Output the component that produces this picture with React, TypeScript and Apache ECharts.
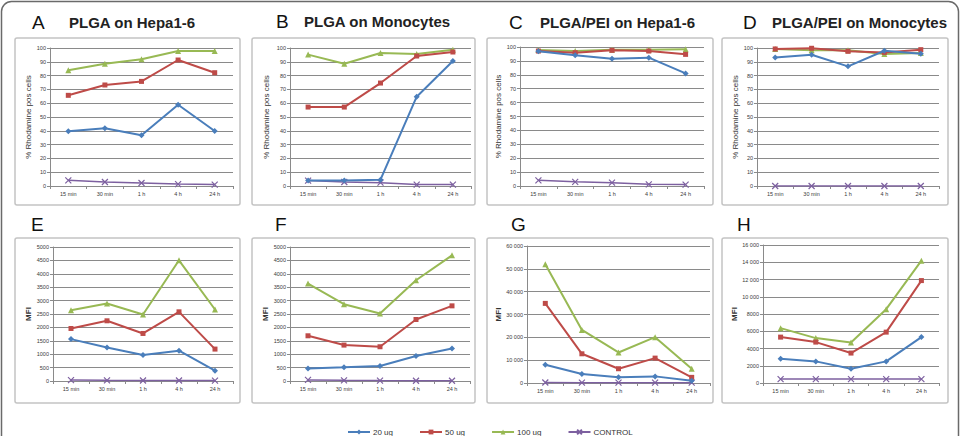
import { useEffect, useRef } from "react";
import * as echarts from "echarts";

// Time points shared by all panels
const timePoints = ["15 min", "30 min", "1 h", "4 h", "24 h"];
const doseNames = ["20 ug", "50 ug", "100 ug", "CONTROL"];

// % Rhodamine positive cells
const plgaHepa20 = [39.6, 41.8, 36.7, 58.9, 39.9];
const plgaHepa50 = [65.7, 73.2, 75.8, 91.3, 82.1];
const plgaHepa100 = [83.8, 88.6, 91.8, 97.8, 97.8];
const plgaHepaCtl = [4.1, 2.9, 2.2, 1.4, 1.0];

const plgaMono20 = [3.9, 3.9, 4.6, 64.7, 90.6];
const plgaMono50 = [57.2, 57.2, 74.6, 94.2, 97.1];
const plgaMono100 = [95.2, 88.6, 96.4, 95.7, 98.8];
const plgaMonoCtl = [3.9, 2.9, 2.4, 1.0, 1.0];

const peiHepa20 = [97.0, 94.0, 91.5, 92.3, 81.0];
const peiHepa50 = [97.1, 95.9, 97.6, 97.1, 94.7];
const peiHepa100 = [97.8, 97.2, 98.0, 98.0, 98.3];
const peiHepaCtl = [4.1, 3.0, 2.4, 1.2, 1.0];

const peiMono20 = [93.2, 95.1, 86.7, 98.0, 95.9];
const peiMono50 = [99.3, 99.8, 97.6, 96.8, 98.8];
const peiMono100 = [99.3, 98.3, 98.3, 95.6, 96.4];
const peiMonoCtl = [0, 0, 0, 0, 0];

// Mean fluorescence intensity
const mfiPlgaHepa20 = [1563, 1253, 968, 1129, 385];
const mfiPlgaHepa50 = [1960, 2246, 1774, 2581, 1191];
const mfiPlgaHepa100 = [2643, 2891, 2481, 4504, 2667];
const mfiPlgaHepaCtl = [35, 25, 20, 20, 15];

const mfiPlgaMono20 = [471, 509, 558, 930, 1216];
const mfiPlgaMono50 = [1687, 1340, 1278, 2295, 2804];
const mfiPlgaMono100 = [3635, 2866, 2519, 3759, 4690];
const mfiPlgaMonoCtl = [40, 25, 15, 10, 10];

const mfiPeiHepa20 = [7990, 3920, 2470, 2900, 1017];
const mfiPeiHepa50 = [34867, 12790, 6250, 10900, 2470];
const mfiPeiHepa100 = [52035, 23250, 13370, 20058, 6250];
const mfiPeiHepaCtl = [200, 150, 150, 150, 150];

const mfiPeiMono20 = [2814, 2506, 1658, 2506, 5320];
const mfiPeiMono50 = [5320, 4742, 3470, 5898, 11874];
const mfiPeiMono100 = [6361, 5205, 4703, 8558, 14187];
const mfiPeiMonoCtl = [450, 450, 450, 450, 450];

const panelLetters = ["A", "B", "C", "D", "E", "F", "G", "H"];
const panelTitles = [
  "PLGA on Hepa1-6",
  "PLGA on Monocytes",
  "PLGA/PEI on Hepa1-6",
  "PLGA/PEI on Monocytes",
  "",
  "",
  "",
  "",
];
const axisTitles = [
  "% Rhodamine pos cells",
  "% Rhodamine pos cells",
  "% Rhodamine pos cells",
  "% Rhodamine pos cells",
  "MFI",
  "MFI",
  "MFI",
  "MFI",
];
const axisMax = [100, 100, 100, 100, 5000, 5000, 60000, 16000];
const axisStep = [10, 10, 10, 10, 500, 500, 10000, 2000];

const panelSeries = [
  [plgaHepa20, plgaHepa50, plgaHepa100, plgaHepaCtl],
  [plgaMono20, plgaMono50, plgaMono100, plgaMonoCtl],
  [peiHepa20, peiHepa50, peiHepa100, peiHepaCtl],
  [peiMono20, peiMono50, peiMono100, peiMonoCtl],
  [mfiPlgaHepa20, mfiPlgaHepa50, mfiPlgaHepa100, mfiPlgaHepaCtl],
  [mfiPlgaMono20, mfiPlgaMono50, mfiPlgaMono100, mfiPlgaMonoCtl],
  [mfiPeiHepa20, mfiPeiHepa50, mfiPeiHepa100, mfiPeiHepaCtl],
  [mfiPeiMono20, mfiPeiMono50, mfiPeiMono100, mfiPeiMonoCtl],
];

// Layout: plot rectangles, chart-area boxes and heading positions
const plotRects = [
  { left: 50, top: 48, width: 183, height: 138 },
  { left: 290, top: 48, width: 181, height: 138 },
  { left: 520, top: 47, width: 184, height: 139 },
  { left: 757, top: 48, width: 182, height: 138 },
  { left: 53, top: 247, width: 180, height: 134 },
  { left: 290, top: 247, width: 180, height: 134 },
  { left: 527, top: 246, width: 183, height: 137 },
  { left: 763, top: 245, width: 176, height: 138 },
];
const frameBoxes = [
  { x: 15, y: 38, w: 225, h: 167 },
  { x: 252, y: 38, w: 223, h: 167 },
  { x: 487, y: 38, w: 226, h: 167 },
  { x: 722, y: 38, w: 226, h: 167 },
  { x: 15, y: 238, w: 225, h: 165 },
  { x: 252, y: 238, w: 223, h: 165 },
  { x: 487, y: 238, w: 226, h: 165 },
  { x: 722, y: 238, w: 226, h: 165 },
];
const letterPos = [
  { x: 32, y: 22, tx: 69 },
  { x: 276, y: 21, tx: 304 },
  { x: 509, y: 22, tx: 540 },
  { x: 743, y: 22, tx: 772 },
  { x: 31, y: 224, tx: 0 },
  { x: 275, y: 224, tx: 0 },
  { x: 511, y: 224, tx: 0 },
  { x: 737, y: 224, tx: 0 },
];
const nameGaps = [15, 20, 15, 17, 20, 17, 23, 23];

const colors = ["#4a7ebb", "#be4b48", "#98b954", "#7d60a0"];
const symbols = [
  "diamond",
  "rect",
  "triangle",
  "path://M0,0L10,10M10,0L0,10",
];
const symbolSizes = [6, 5, 6, 6];

const gridColor = "#8a8a8a";
const labelColor = "#3a3a3a";

function formatTick(v: number): string {
  if (v >= 10000) {
    const thousands = Math.floor(v / 1000);
    const rest = String(v % 1000).padStart(3, "0");
    return `${thousands} ${rest}`;
  }
  return String(v);
}

export default function App() {
  const ref = useRef<HTMLDivElement>(null);

  useEffect(() => {
    if (!ref.current) return;
    const chart = echarts.init(ref.current, undefined, { renderer: "svg" });

    const grids = plotRects.map((r) => ({ ...r, containLabel: false }));

    const xAxes = plotRects.map((_, i) => ({
      type: "category" as const,
      gridIndex: i,
      data: timePoints,
      boundaryGap: true,
      axisLine: { lineStyle: { color: gridColor, width: 1 } },
      axisTick: {
        show: true,
        inside: false,
        length: 3,
        lineStyle: { color: gridColor },
      },
      axisLabel: {
        fontSize: 5.5,
        color: labelColor,
        fontFamily: "Liberation Sans, Arial, sans-serif",
        margin: 5,
        interval: 0,
      },
    }));

    const yAxes = plotRects.map((_, i) => ({
      type: "value" as const,
      gridIndex: i,
      min: 0,
      max: axisMax[i],
      interval: axisStep[i],
      name: axisTitles[i],
      nameLocation: "middle" as const,
      nameGap: nameGaps[i],
      nameRotate: 90,
      nameTextStyle: {
        fontSize: 8,
        fontWeight: i >= 4 ? ("bold" as const) : ("normal" as const),
        color: "#333",
        fontFamily: "Liberation Sans, Arial, sans-serif",
      },
      axisLine: { show: true, lineStyle: { color: gridColor, width: 1 } },
      axisTick: { show: true, length: 3, lineStyle: { color: gridColor } },
      splitLine: { show: true, lineStyle: { color: gridColor, width: 1 } },
      axisLabel: {
        fontSize: 5.5,
        color: labelColor,
        fontFamily: "Liberation Sans, Arial, sans-serif",
        margin: 4,
        formatter: (v: number) => formatTick(v),
      },
    }));

    const series: any[] = [];
    panelSeries.forEach((group, gi) => {
      group.forEach((values, si) => {
        series.push({
          name: doseNames[si],
          type: "line",
          xAxisIndex: gi,
          yAxisIndex: gi,
          data: values,
          symbol: symbols[si],
          symbolSize: symbolSizes[si],
          showSymbol: true,
          lineStyle: { color: colors[si], width: si === 3 ? 1.5 : 2 },
          itemStyle: {
            color: colors[si],
            borderColor: colors[si],
            borderWidth: si === 3 ? 1.2 : 0,
          },
          z: 10 - si,
        });
      });
    });

    const graphics: any[] = [
      {
        type: "rect",
        shape: { x: 1.5, y: 1.5, width: 957, height: 470, r: 10 },
        style: { fill: "none", stroke: "#6a6a6a", lineWidth: 1.5 },
        silent: true,
        z: -10,
      },
    ];
    frameBoxes.forEach((b) => {
      graphics.push({
        type: "rect",
        shape: { x: b.x, y: b.y, width: b.w, height: b.h, r: 2 },
        style: { fill: "none", stroke: "#c4c4c4", lineWidth: 1.5 },
        silent: true,
        z: -5,
      });
    });
    letterPos.forEach((p, i) => {
      graphics.push({
        type: "text",
        x: p.x,
        y: p.y,
        style: {
          text: panelLetters[i],
          fontSize: 19,
          fontFamily: "Liberation Sans, Arial, sans-serif",
          fill: "#111",
          verticalAlign: "middle",
          align: "left",
        },
        silent: true,
      });
      if (panelTitles[i]) {
        graphics.push({
          type: "text",
          x: p.tx,
          y: p.y,
          style: {
            text: panelTitles[i],
            fontSize: 15,
            fontWeight: "bold",
            fontFamily: "Liberation Sans, Arial, sans-serif",
            fill: "#222",
            verticalAlign: "middle",
            align: "left",
          },
          silent: true,
        });
      }
    });

    chart.setOption({
      animation: false,
      backgroundColor: "#ffffff",
      grid: grids,
      xAxis: xAxes,
      yAxis: yAxes,
      series,
      legend: {
        data: doseNames,
        left: 342,
        top: 423,
        itemWidth: 22,
        itemHeight: 6,
        itemGap: 26,
        textStyle: {
          fontSize: 8,
          color: "#333",
          fontFamily: "Liberation Sans, Arial, sans-serif",
          padding: [0, 0, 0, -2],
        },
      },
      graphic: graphics,
    });

    return () => chart.dispose();
  }, []);

  return (
    <div
      ref={ref}
      style={{
        position: "absolute",
        left: 0,
        top: 0,
        width: 961,
        height: 436,
        background: "#fff",
      }}
    />
  );
}
